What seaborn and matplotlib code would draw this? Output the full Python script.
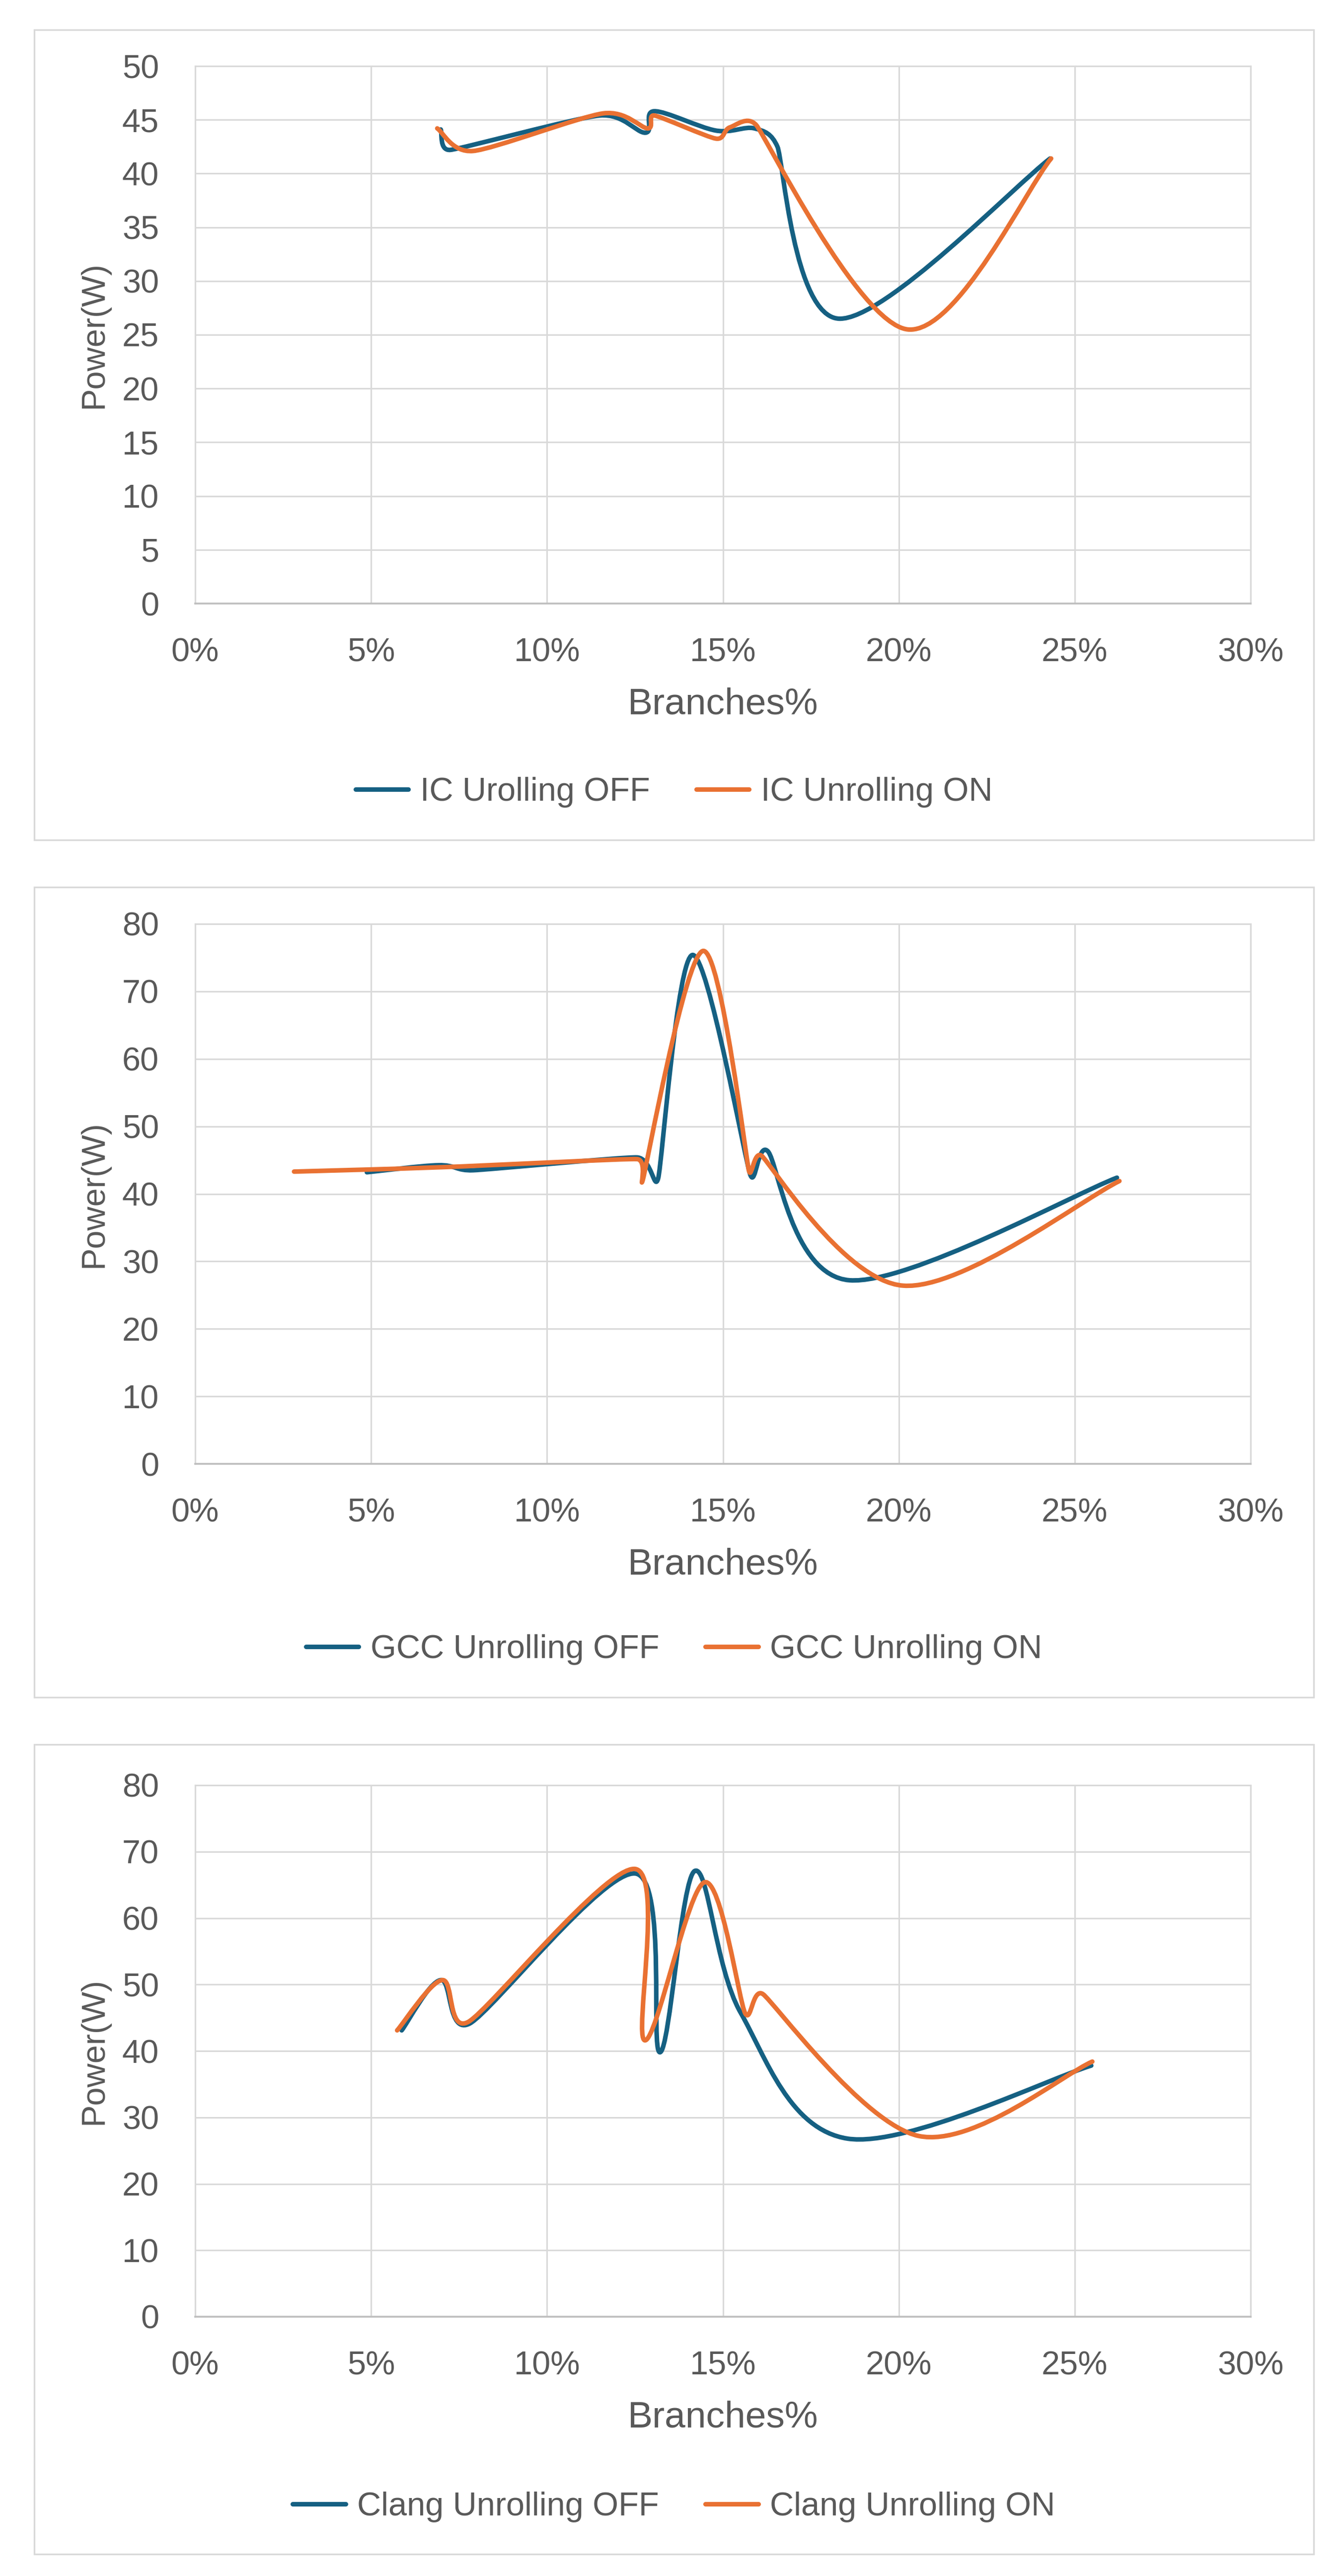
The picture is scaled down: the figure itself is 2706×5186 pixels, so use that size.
import numpy as np
import seaborn as sns
import matplotlib.pyplot as plt
from matplotlib.path import Path
from matplotlib.patches import PathPatch, Rectangle
from matplotlib.lines import Line2D
from matplotlib.ticker import FuncFormatter, MultipleLocator

# --- data (x = Branches %, y = Power W) ---
ic_off_x = [6.98, 7.25, 11.5, 12.8, 13.05, 14.8, 15.9, 16.55, 18.3, 24.3]
ic_off_y = [44.1, 42.2, 45.4, 43.8, 45.8, 44.0, 44.2, 42.5, 26.5, 41.4]
ic_on_x = [6.88, 7.9, 11.6, 12.86, 13.05, 14.8, 15.2, 15.95, 20.25, 24.33]
ic_on_y = [44.2, 42.1, 45.6, 44.2, 45.4, 43.25, 44.3, 44.5, 25.5, 41.4]

gcc_off_x = [4.88, 6.92, 7.9, 12.56, 13.16, 14.14, 15.78, 16.28, 18.6, 26.2]
gcc_off_y = [43.2, 44.25, 43.5, 45.4, 42.3, 75.4, 42.8, 46.3, 27.2, 42.4]
gcc_on_x = [2.81, 7.0, 12.56, 12.72, 14.44, 15.74, 16.1, 20.13, 26.27]
gcc_on_y = [43.3, 43.95, 45.15, 42.0, 76.0, 43.4, 45.65, 26.4, 41.9]

clang_off_x = [5.87, 6.98, 7.81, 12.52, 13.21, 14.2, 15.5, 18.55, 25.47]
clang_off_y = [43.1, 50.67, 44.15, 66.7, 39.8, 67.1, 45.8, 26.8, 37.8]
clang_on_x = [5.74, 7.02, 7.77, 12.5, 12.78, 14.48, 15.63, 16.14, 20.57, 25.5]
clang_on_y = [43.1, 50.67, 44.4, 67.4, 41.6, 65.4, 45.7, 48.55, 27.2, 38.4]

labels_ic = ["IC Urolling OFF", "IC Unrolling ON"]
labels_gcc = ["GCC Unrolling OFF", "GCC Unrolling ON"]
labels_clang = ["Clang Unrolling OFF", "Clang Unrolling ON"]

BLUE = "#156082"
ORANGE = "#E97132"
TXT = "#595959"
LW = 2.2

W, H = 2706, 5186
DPI = 300

sns.set_theme(style="white")
plt.rcParams['font.family'] = ['Liberation Sans', 'DejaVu Sans']


def arm(a, b, c, end=False):
    # excel-like smoothing: control arm along (c - a), shortened near short segments
    t = c - a
    d02 = np.hypot(*t)
    if d02 == 0:
        return t * 0
    f = 1 / 6
    if not end:
        d01 = np.hypot(*(b - a))
        d12 = np.hypot(*(c - b))
        f = min(f, d01 / (2 * d02), d12 / (2 * d02))
    return t * f


def smooth_path(xs, ys, sx, sy):
    P = np.column_stack([np.asarray(xs) * sx, np.asarray(ys) * sy])
    n = len(P)
    verts = [P[0]]
    codes = [Path.MOVETO]
    for i in range(n - 1):
        p1, p2 = P[i], P[i + 1]
        if i > 0:
            c1 = p1 + arm(P[i - 1], p1, p2)
        else:
            c1 = p1 + arm(p1, p1, p2, end=True)
        if i + 2 < n:
            c2 = p2 - arm(p1, p2, P[i + 2])
        else:
            c2 = p2 - arm(p1, p2, p2, end=True)
        verts += [c1, c2, p2]
        codes += [Path.CURVE4] * 3
    verts = np.array(verts) / [sx, sy]
    return Path(verts, codes)


fig = plt.figure(figsize=(W / DPI, H / DPI), dpi=DPI)

charts = [
    dict(box=(60, 1691), plot=(133, 1215), ymax=50, ystep=5,
         series=[(ic_off_x, ic_off_y, BLUE), (ic_on_x, ic_on_y, ORANGE)], labels=labels_ic),
    dict(box=(1786, 3417), plot=(1860, 2947), ymax=80, ystep=10,
         series=[(gcc_off_x, gcc_off_y, BLUE), (gcc_on_x, gcc_on_y, ORANGE)], labels=labels_gcc),
    dict(box=(3512, 5142), plot=(3594, 4664), ymax=80, ystep=10,
         series=[(clang_off_x, clang_off_y, BLUE), (clang_on_x, clang_on_y, ORANGE)], labels=labels_clang),
]

left_px, right_px = 393, 2518
box_l, box_r = 69, 2645

for ch in charts:
    top, bot = ch['plot']
    ax = fig.add_axes([left_px / W, 1 - bot / H, (right_px - left_px) / W, (bot - top) / H])
    ax.set_xlim(0, 30)
    ax.set_ylim(0, ch['ymax'])
    ax.xaxis.set_major_locator(MultipleLocator(5))
    ax.yaxis.set_major_locator(MultipleLocator(ch['ystep']))
    ax.xaxis.set_major_formatter(FuncFormatter(lambda v, p: f"{v:.0f}%"))
    ax.grid(True, color="#d9d9d9", lw=0.75)
    ax.set_axisbelow(True)
    for s in ['left', 'top', 'right']:
        ax.spines[s].set_color("#d9d9d9")
        ax.spines[s].set_linewidth(0.75)
    ax.spines['bottom'].set_color("#bfbfbf")
    ax.spines['bottom'].set_linewidth(0.9)
    ax.tick_params(axis='both', length=0, labelsize=16, labelcolor=TXT)
    ax.tick_params(axis='x', pad=16.5)
    ax.tick_params(axis='y', pad=17.5)

    sx = (right_px - left_px) / 30
    sy = (bot - top) / ch['ymax']
    for xs, ys, col in ch['series']:
        patch = PathPatch(smooth_path(xs, ys, sx, sy), facecolor='none', edgecolor=col,
                          lw=LW, capstyle='round', joinstyle='round')
        ax.add_patch(patch)

    ax.set_xlabel("Branches%", fontsize=18, color=TXT, va='center')
    ax.xaxis.set_label_coords(0.5, -203 / (bot - top))
    ax.set_ylabel("Power(W)", fontsize=16, color=TXT, va='center')
    ax.yaxis.set_label_coords((190 - left_px) / (right_px - left_px), 0.5)

    handles = [Line2D([], [], color=BLUE, lw=LW, solid_capstyle='round'),
               Line2D([], [], color=ORANGE, lw=LW, solid_capstyle='round')]
    btop, bbot = ch['box']
    leg = fig.legend(handles, ch['labels'], loc='center', ncol=2, frameon=False,
                     bbox_to_anchor=((box_l + box_r) / 2 / W, 1 - (btop + 1535) / H),
                     bbox_transform=fig.transFigure, fontsize=16,
                     handlelength=1.6, handletextpad=0.35, columnspacing=1.4)
    for t in leg.get_texts():
        t.set_color(TXT)

    fig.patches.append(Rectangle((box_l / W, 1 - bbot / H), (box_r - box_l) / W, (bbot - btop) / H,
                                 transform=fig.transFigure, facecolor='none',
                                 edgecolor="#d9d9d9", lw=0.8))

fig.savefig("out.png", dpi=DPI, facecolor="white")
